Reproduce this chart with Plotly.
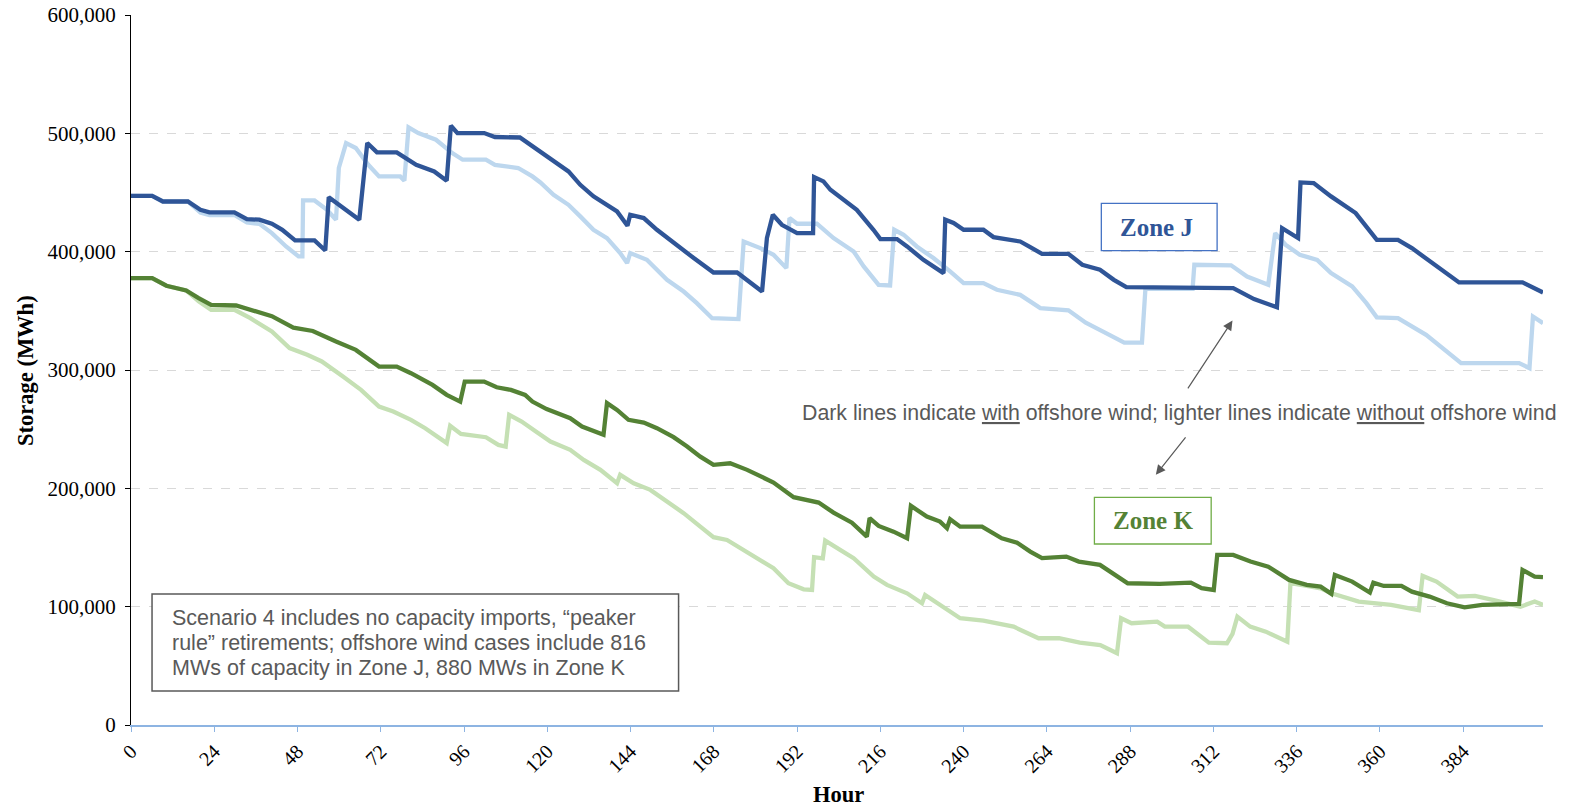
import plotly.graph_objects as go

# Hourly storage trajectories (MWh), sampled at the breakpoints of each curve
hours_j_with = [0, 6.1, 9.2, 16.4, 20, 22.6, 29.8, 33.4, 37, 40.6, 43.6, 47.3, 52.9, 56, 57, 59.6, 62.7, 65.8,
                68.1, 70.9, 76.6, 79.2, 82.2, 87.4, 91, 92.2, 94.1, 101.8, 104.9, 112.1, 115.7, 118, 121.8,
                126.1, 129.5, 133.3, 140.1, 143.1, 143.9, 147.8, 151.6, 156.4, 162.2, 167.9, 174.7, 181.9,
                183.3, 185, 187.6, 192, 196.6, 196.9, 199.6, 201.6, 205.4, 209.2, 214, 216, 220.8, 223.7,
                228.4, 234.2, 234.7, 237.1, 240, 245.7, 248.6, 252.5, 256.3, 259.2, 262.6, 270.2, 274.2,
                279.3, 283.3, 286.9, 317.7, 323.7, 330.3, 331.8, 336.4, 337.1, 340.9, 345.9, 353, 359.1,
                365.2, 369.2, 375.3, 382.8, 401.1, 407]
zone_j_with = [447200, 447200, 442400, 442400, 435400, 433200, 433200, 427500, 427000, 423600, 418500, 409500,
               409500, 401000, 446000, 440500, 434000, 427000, 491800, 483900, 483900, 479000, 473400, 467800,
               460000, 506400, 500200, 500200, 496900, 496500, 489000, 484000, 476300, 467800, 456500, 446700,
               434000, 421900, 431200, 428400, 418500, 407300, 394600, 382400, 382400, 366300, 411500, 431200,
               422700, 415700, 415700, 463000, 459400, 452300, 443900, 435400, 418500, 410600, 410600, 404400,
               393100, 381900, 427000, 424200, 418500, 418500, 412300, 410600, 408600, 403900, 398200, 398200,
               388900, 384700, 376200, 370000, 369200, 359900, 353100, 419900, 411500, 458500, 458000, 446700,
               432600, 410000, 410000, 403000, 390300, 374000, 374000, 365500]

hours_j_without = [0, 6.1, 9.2, 16.4, 20, 22.6, 29.8, 33.4, 37, 40.6, 44.7, 48.3, 49.4, 49.6, 52.9, 56.5, 59.1,
                   59.9, 62, 64.8, 68.4, 71.5, 77.6, 78.8, 80, 82.8, 87.9, 92.6, 95.6, 102.3, 104.9, 111.6,
                   115.7, 118, 121.8, 126.1, 129.5, 133.3, 137.2, 141, 143, 143.9, 148.7, 154.5, 159.3, 163.1,
                   167.5, 175.1, 176.6, 181.4, 185.2, 188.9, 189.8, 192, 197.7, 202.5, 208.3, 211.2, 215.5,
                   218.8, 220, 222.7, 226.5, 231.3, 236.1, 240, 245.7, 249.6, 256.3, 262.1, 270.2, 275.2,
                   280.2, 286.3, 291.4, 292.4, 306, 306.5, 317.1, 321.7, 327.8, 329.8, 332.8, 336.9, 341.9,
                   345.9, 352, 356.1, 359.1, 365.2, 373.3, 383.4, 400.1, 403.1, 404.1, 407]
zone_j_without = [447200, 447200, 442400, 442400, 433000, 431000, 431000, 424700, 423500, 415700, 404400, 396000,
                  396000, 443300, 443300, 435400, 427000, 470700, 491800, 487600, 473400, 463600, 463600, 460000,
                  505000, 500200, 494600, 483300, 477700, 477700, 473400, 470700, 463600, 458500, 448100, 439600,
                  429800, 418500, 411500, 398800, 390300, 398800, 393100, 376200, 366300, 356500, 343800, 343000,
                  408600, 403000, 397400, 386100, 428400, 423600, 423600, 411500, 400200, 387500, 372000, 371500,
                  418500, 414300, 404400, 394600, 383300, 373400, 373400, 367800, 363500, 352300, 350500, 340000,
                  332500, 323200, 323200, 368500, 368500, 388900, 388500, 379000, 372000, 415700, 405800, 397400,
                  393100, 381900, 370600, 356500, 344500, 343800, 329700, 305800, 305800, 301600, 345200, 339600]

hours_k_with = [0, 6.1, 10.2, 15.9, 19.5, 23.1, 30.3, 34.4, 40.6, 46.8, 52.4, 59.1, 64.8, 71.5, 76.6, 80.7,
                86.9, 91, 94.9, 96.2, 101.8, 105.4, 109.5, 113.6, 115.7, 119.8, 121.8, 126.6, 130, 136.2,
                137.2, 140.1, 143.4, 147.8, 151.6, 156.4, 160.3, 164.1, 167.9, 172.7, 177.6, 185.2, 191,
                194.8, 198.2, 202.5, 207.8, 212.1, 212.9, 215.5, 219.8, 223.7, 224.8, 229.4, 233.2, 235.2,
                236.1, 239, 245.3, 251, 255.4, 259.2, 262.6, 269.6, 273.2, 279.3, 287.3, 296.5, 305.5,
                308.6, 312.1, 313.1, 317.7, 322.7, 327.8, 333.8, 338.9, 342.9, 346, 347, 352, 357.1, 358.1,
                361.1, 366.2, 369.2, 374.3, 379.3, 384.4, 389.5, 400.1, 401.1, 404.6, 407]
zone_k_with = [377700, 377700, 371200, 367200, 360800, 355100, 354500, 350900, 345500, 335800, 333000, 324100,
               317000, 302900, 302900, 297300, 287400, 279000, 273300, 290200, 290200, 285400, 283200, 279000,
               273300, 267000, 264900, 259300, 252200, 245200, 272000, 266300, 257900, 255600, 250800, 243200,
               235300, 226800, 219800, 221200, 215600, 204900, 192500, 190200, 188000, 179500, 171000, 159200,
               174800, 168200, 163400, 157800, 185200, 176100, 171900, 166300, 173900, 167600, 167600, 157800,
               154100, 146500, 141000, 142300, 138100, 135300, 119800, 119200, 120300, 115600, 114100, 143700,
               143700, 138100, 133800, 122600, 118400, 116900, 110800, 126800, 121200, 111900, 120300, 117500,
               117500, 112700, 108500, 102900, 99500, 101500, 102300, 131000, 125400, 125000]

hours_k_without = [0, 6.1, 10.2, 15.9, 19.5, 23.1, 29.8, 34.4, 40.6, 45.7, 50.8, 55, 61.1, 66.3, 71.5, 75.6,
                   80.7, 84.8, 91, 92, 95.1, 99.2, 102.3, 105.9, 108, 109, 112.6, 116.7, 120.9, 126.6, 130.5,
                   135.3, 140.1, 141, 144.9, 149.7, 154.5, 159.3, 164.1, 167.9, 171.8, 176.6, 180.4, 185.2,
                   189.5, 193.9, 196.3, 196.9, 199.4, 200.1, 204.4, 208.3, 214.1, 217.9, 223.7, 228, 228.9,
                   233.2, 239, 245.7, 254.4, 261.6, 267.5, 273.5, 279.4, 284.2, 285.4, 288.4, 295.8, 298,
                   304.7, 310.7, 315.9, 317.5, 318.9, 322.6, 327.1, 333.3, 334.2, 338.9, 342.9, 346, 353.9,
                   363.2, 371.2, 372.3, 376.3, 382.4, 387.4, 392.5, 400.5, 404.6, 407]
zone_k_without = [377700, 377700, 371200, 367200, 358000, 350900, 350900, 343800, 332500, 318500, 312800, 307200,
                  294500, 283200, 269100, 264900, 257900, 250800, 238200, 252800, 246000, 244300, 243200, 236700,
                  235300, 262100, 256400, 248000, 239500, 232500, 224000, 215600, 204300, 211400, 204300, 198700,
                  188800, 179000, 167600, 158700, 156400, 148000, 140900, 132500, 119800, 114700, 114100, 141800,
                  140900, 155800, 148000, 140900, 125400, 118400, 111300, 102900, 109900, 101500, 90200, 88200,
                  83100, 73300, 73300, 69600, 67600, 60600, 90200, 86000, 87300, 83100, 83100, 69600, 69100,
                  77000, 91600, 83100, 78900, 70400, 119800, 117500, 115500, 111300, 104300, 101500, 97000,
                  126000, 121200, 108500, 109100, 105700, 100000, 104300, 101500]

x_ticks = list(range(0, 385, 24))
y_ticks = [0, 100000, 200000, 300000, 400000, 500000, 600000]

note_lines = [
    "Scenario 4 includes no capacity imports, \u201cpeaker",
    "rule\u201d retirements; offshore wind cases include 816",
    "MWs of capacity in Zone J, 880 MWs in Zone K",
]

DARK_BLUE = "#2F5597"
LIGHT_BLUE = "#BDD7EE"
DARK_GREEN = "#548235"
LIGHT_GREEN = "#C5E0B4"
GREY_TEXT = "#595959"
SERIF = "Liberation Serif"
SANS = "Liberation Sans"

fig = go.Figure()
series = [
    ("Zone J without offshore wind", hours_j_without, zone_j_without, LIGHT_BLUE),
    ("Zone K without offshore wind", hours_k_without, zone_k_without, LIGHT_GREEN),
    ("Zone J with offshore wind", hours_j_with, zone_j_with, DARK_BLUE),
    ("Zone K with offshore wind", hours_k_with, zone_k_with, DARK_GREEN),
]
for name, xs, ys, color in series:
    fig.add_trace(go.Scatter(x=xs, y=ys, mode="lines", name=name,
                             line=dict(color=color, width=4.3), showlegend=False))

fig.update_layout(
    width=1590, height=806,
    margin=dict(l=131, r=47, t=15, b=81),
    paper_bgcolor="white", plot_bgcolor="white",
    font=dict(family=SERIF, color="black"),
    showlegend=False,
)
fig.update_xaxes(
    range=[0, 407], tickvals=x_ticks, tickangle=-45, automargin=False,
    tickfont=dict(family=SERIF, size=20, color="black"),
    showline=True, linecolor="#8DB4E2", linewidth=1.5,
    ticks="outside", ticklen=5, tickcolor="#8DB4E2",
    showgrid=False, zeroline=False,
)
fig.update_yaxes(
    range=[0, 600000], tickvals=y_ticks, tickformat=",d", automargin=False,
    tickfont=dict(family=SERIF, size=21, color="black"), ticklabelstandoff=5,
    showline=True, linecolor="black", linewidth=1,
    ticks="outside", ticklen=5, tickcolor="black",
    showgrid=True, gridcolor="#D9D9D9", griddash="dash", gridwidth=1,
    zeroline=False,
)

# axis titles
fig.add_annotation(text="<b>Hour</b>", xref="paper", yref="paper", x=0.5014, y=-0.118,
                   showarrow=False, font=dict(family=SERIF, size=22.5, color="black"),
                   xanchor="center", yanchor="bottom")
fig.add_annotation(text="<b>Storage (MWh)</b>", xref="paper", yref="paper", x=-0.0751, y=0.5,
                   textangle=-90, showarrow=False, font=dict(family=SERIF, size=22.5, color="black"),
                   xanchor="center", yanchor="middle")

# zone label boxes
fig.add_shape(type="rect", xref="paper", yref="paper", x0=0.6872, x1=0.7692, y0=0.668, y1=0.7348,
              line=dict(color="#4472C4", width=1.3), fillcolor="white")
fig.add_annotation(text="<b>Zone J</b>", xref="paper", yref="paper", x=0.7262, y=0.7014,
                   showarrow=False, font=dict(family=SERIF, size=25, color=DARK_BLUE),
                   xanchor="center", yanchor="middle")
fig.add_shape(type="rect", xref="paper", yref="paper", x0=0.6823, x1=0.765, y0=0.2549, y1=0.3207,
              line=dict(color="#70AD47", width=1.3), fillcolor="white")
fig.add_annotation(text="<b>Zone K</b>", xref="paper", yref="paper", x=0.7237, y=0.2877,
                   showarrow=False, font=dict(family=SERIF, size=25, color=DARK_GREEN),
                   xanchor="center", yanchor="middle")

# explanatory note with arrows
fig.add_annotation(text="Dark lines indicate <u>with</u> offshore wind; lighter lines indicate <u>without</u> offshore wind",
                   xref="paper", yref="paper", x=0.4737, y=0.4389, showarrow=False,
                   font=dict(family=SANS, size=21.3, color=GREY_TEXT), xanchor="left", yanchor="middle")
fig.add_annotation(text="", x=317.5, y=341800, ax=-45.6, ay=69.3, showarrow=True,
                   arrowhead=2, arrowsize=1.6, arrowwidth=1.2, arrowcolor=GREY_TEXT)
fig.add_annotation(text="", x=295.4, y=211400, ax=30.9, ay=-39, showarrow=True,
                   arrowhead=2, arrowsize=1.6, arrowwidth=1.2, arrowcolor=GREY_TEXT)

# scenario note
fig.add_shape(type="rect", xref="paper", yref="paper", x0=0.0149, x1=0.3878, y0=0.0479, y1=0.1845,
              line=dict(color=GREY_TEXT, width=1.5), fillcolor="white")
for i, line_text in enumerate(note_lines):
    fig.add_annotation(text=line_text, xref="paper", yref="paper",
                       x=0.0276, y=0.1514 - i * 0.0359, showarrow=False, align="left",
                       font=dict(family=SANS, size=21.5, color=GREY_TEXT),
                       xanchor="left", yanchor="middle")

fig.write_html("out.html")
